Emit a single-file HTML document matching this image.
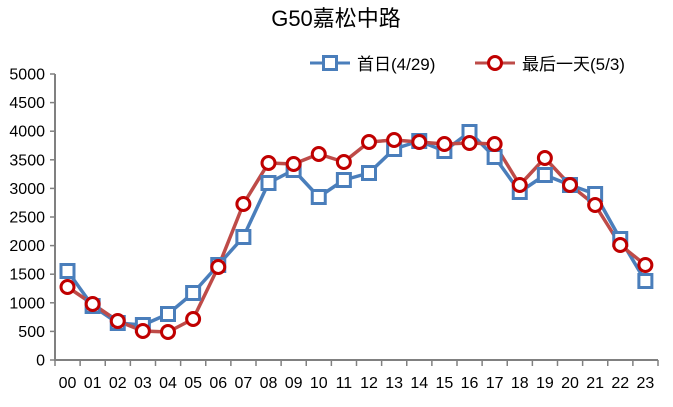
<!DOCTYPE html>
<html><head><meta charset="utf-8"><style>body{margin:0;background:#fff}svg{display:block}</style></head><body>
<svg width="673" height="407" xmlns="http://www.w3.org/2000/svg" font-family="Liberation Sans, 'Noto Sans CJK SC', sans-serif">
<text x="336" y="26" font-size="22" text-anchor="middle" fill="#000">G50嘉松中路</text>
<g stroke="#4a7ebb" stroke-width="3" fill="none"><line x1="310" y1="63" x2="350" y2="63"/><rect x="323.5" y="56.5" width="13" height="13" fill="#fff"/></g>
<text x="357" y="70" font-size="17">首日(4/29)</text>
<g stroke="#be4b48" stroke-width="3" fill="none"><line x1="475" y1="63" x2="515" y2="63"/></g><circle cx="495" cy="63" r="6.5" fill="#fff" stroke="#c00000" stroke-width="3"/>
<text x="522" y="70" font-size="17">最后一天(5/3)</text>
<g stroke="#808080" stroke-width="2"><line x1="55" y1="74" x2="55" y2="360"/><line x1="54" y1="360" x2="658" y2="360"/></g>
<g stroke="#808080" stroke-width="1.5" id="t"></g>
<g font-size="16" text-anchor="end" fill="#000" id="yl"></g>
<g font-size="16" text-anchor="middle" fill="#000" id="xl"></g>
<polyline id="bl" fill="none" stroke="#4a7ebb" stroke-width="3.5" stroke-linejoin="round"/>
<polyline id="rl" fill="none" stroke="#be4b48" stroke-width="3.5" stroke-linejoin="round"/>
<g id="bm"></g><g id="rm"></g>
<script>
var ns="http://www.w3.org/2000/svg";
function el(p,n,a,t){var e=document.createElementNS(ns,n);for(var k in a)e.setAttribute(k,a[k]);if(t!=null)e.textContent=t;document.getElementById(p).appendChild(e);}
for(var i=0;i<=10;i++){var y=360-i*28.6;el('t','line',{x1:50,y1:y,x2:55,y2:y});el('yl','text',{x:45,y:y+5.5},String(i*500));}
for(var i=0;i<=24;i++){var x=55+i*25.125;el('t','line',{x1:x,y1:360,x2:x,y2:366});}
var B=[271,306,323,325,314,293,265,237,183,170,197,180,173,149,141,151,132,157,192,175,185,194,239,281];
var R=[287,304,321,331,332,319,267,204,163,164,154,162,142,140,142,144,143,144,185,158,185,205,245,265];
var bp=[],rp=[];
for(var i=0;i<24;i++){var x=67.5+i*25.125;el('xl','text',{x:x,y:388},(i<10?'0':'')+i);bp.push(x+','+B[i]);rp.push(x+','+R[i]);
el('bm','rect',{x:x-6.5,y:B[i]-6.5,width:13,height:13,fill:'#fff',stroke:'#4a7ebb','stroke-width':3});}
for(var i=0;i<24;i++){var x=67.5+i*25.125;el('rm','circle',{cx:x,cy:R[i],r:6.5,fill:'#fff',stroke:'#c00000','stroke-width':3});}
document.getElementById('bl').setAttribute('points',bp.join(' '));
document.getElementById('rl').setAttribute('points',rp.join(' '));
</script>
</svg>
</body></html>
